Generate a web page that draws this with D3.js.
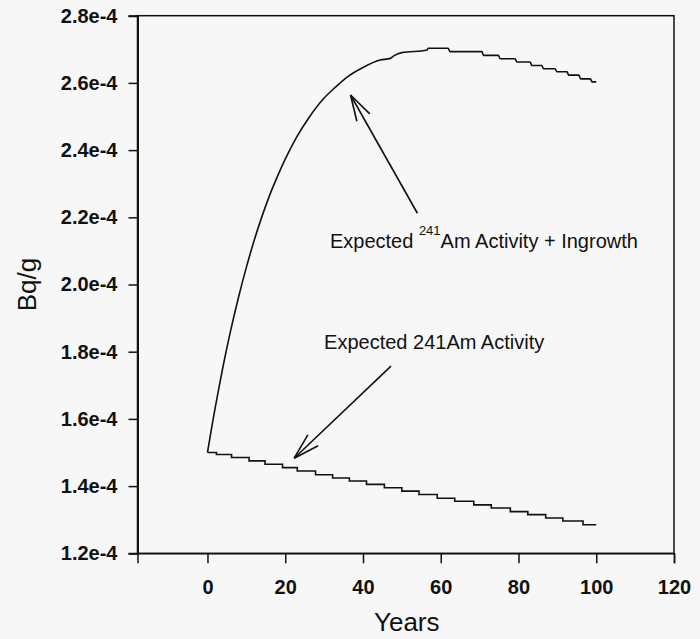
<!DOCTYPE html>
<html>
<head>
<meta charset="utf-8">
<script src="https://cdn.jsdelivr.net/npm/d3@7"></script>
<style>
  html, body { margin: 0; padding: 0; background: #f7f7f7; }
  svg { display: block; }
  text { font-family: "Liberation Sans", Arial, sans-serif; fill: #111; }
</style>
</head>
<body>
<svg id="chart" width="700" height="639"></svg>
<script>
// Expected 241Am activity (decay only), stepped as plotted: step start year and value (Bq/g)
const decayYears  = [0, 2.3, 6.2, 10.7, 14.8, 19.3, 23.1, 27.8, 32.2, 36.5, 40.9, 45.5, 50.0,
                     54.4, 59.1, 63.6, 68.5, 73.0, 77.9, 82.4, 87.0, 91.4, 96.6, 100];
const decayValues = [1.500e-4, 1.494e-4, 1.485e-4, 1.475e-4, 1.465e-4, 1.455e-4, 1.445e-4, 1.434e-4,
                     1.424e-4, 1.415e-4, 1.405e-4, 1.395e-4, 1.385e-4, 1.375e-4, 1.364e-4, 1.355e-4,
                     1.344e-4, 1.335e-4, 1.324e-4, 1.315e-4, 1.305e-4, 1.296e-4, 1.285e-4, 1.285e-4];

// Expected 241Am activity + ingrowth from 241Pu (Bq/g)
const ingrowthYears  = [0, 1, 2, 3, 4, 5, 6, 8, 10, 12, 14, 16, 18, 20, 23, 26, 30, 33, 36, 40,
                        44.4, 47, 48, 50, 56.4, 56.8, 61.9, 62.4, 70.6, 71.0, 74.8, 75.3, 79.1, 79.6,
                        83.0, 83.4, 86.0, 86.4, 89.4, 89.9, 92.5, 92.9, 95.5, 96.0, 98.5, 98.9, 100];
const ingrowthValues = [1.500e-4, 1.569e-4, 1.634e-4, 1.696e-4, 1.756e-4, 1.812e-4, 1.865e-4, 1.963e-4,
                        2.051e-4, 2.131e-4, 2.202e-4, 2.266e-4, 2.322e-4, 2.373e-4, 2.440e-4, 2.495e-4,
                        2.555e-4, 2.588e-4, 2.618e-4, 2.646e-4, 2.668e-4, 2.673e-4, 2.681e-4, 2.690e-4,
                        2.697e-4, 2.703e-4, 2.703e-4, 2.693e-4, 2.693e-4, 2.682e-4, 2.682e-4, 2.672e-4,
                        2.672e-4, 2.662e-4, 2.662e-4, 2.652e-4, 2.652e-4, 2.642e-4, 2.642e-4, 2.633e-4,
                        2.633e-4, 2.623e-4, 2.623e-4, 2.612e-4, 2.612e-4, 2.603e-4, 2.603e-4];

// Axis ticks and labels
const xTicks = [0, 20, 40, 60, 80, 100, 120];
const yTicks = [1.2e-4, 1.4e-4, 1.6e-4, 1.8e-4, 2.0e-4, 2.2e-4, 2.4e-4, 2.6e-4, 2.8e-4];
const yTickLabels = ["1.2e-4", "1.4e-4", "1.6e-4", "1.8e-4", "2.0e-4", "2.2e-4", "2.4e-4", "2.6e-4", "2.8e-4"];
const xDomain = [-18, 120];
const yDomain = [1.2e-4, 2.8e-4];

// Annotations: arrow tip / tail and label anchor, in data units
const ingrowthArrow = { tip: [36.8, 2.564e-4], tail: [54.0, 2.212e-4] };
const ingrowthLabel = { at: [31.5, 2.110e-4], pre: "Expected ", sup: "241", post: "Am Activity + Ingrowth" };
const decayArrow = { tip: [22.3, 1.483e-4], tail: [47.2, 1.757e-4] };
const decayLabel = { at: [30.0, 1.807e-4], text: "Expected 241Am Activity" };

const svg = d3.select("#chart");
const plot = { left: 137.5, right: 674, top: 15.7, bottom: 553.3 };

const x = d3.scaleLinear().domain(xDomain).range([plot.left, plot.right]);
const y = d3.scaleLinear().domain(yDomain).range([plot.bottom, plot.top]);

// frame
svg.append("rect")
  .attr("x", plot.left).attr("y", plot.top)
  .attr("width", plot.right - plot.left).attr("height", plot.bottom - plot.top)
  .attr("fill", "none").attr("stroke", "#111").attr("stroke-width", 1.5);

// y axis
const yAxis = svg.append("g")
  .attr("transform", `translate(${plot.left},0)`)
  .call(d3.axisLeft(y).tickValues(yTicks)
    .tickFormat((d, i) => yTickLabels[i])
    .tickSize(9).tickPadding(11));
yAxis.select(".domain").attr("stroke", "#111").attr("stroke-width", 2);
yAxis.selectAll(".tick line").attr("stroke", "#111").attr("stroke-width", 1.5);
yAxis.selectAll(".tick text")
  .attr("font-size", 20).attr("font-weight", "bold").attr("fill", "#111")
  .style("font-family", "'Liberation Sans', Arial, sans-serif");

// x axis
const xAxis = svg.append("g")
  .attr("transform", `translate(0,${plot.bottom})`)
  .call(d3.axisBottom(x).tickValues(xTicks)
    .tickFormat(d3.format("d"))
    .tickSize(10).tickPadding(17));
xAxis.select(".domain").attr("stroke", "#111").attr("stroke-width", 1.5);
xAxis.selectAll(".tick line").attr("stroke", "#111").attr("stroke-width", 1.5);
xAxis.selectAll(".tick text")
  .attr("font-size", 20).attr("font-weight", "bold").attr("fill", "#111")
  .style("font-family", "'Liberation Sans', Arial, sans-serif");

// axis titles
svg.append("text")
  .attr("x", (plot.left + plot.right) / 2 + 1).attr("y", 631)
  .attr("text-anchor", "middle")
  .attr("font-size", 26)
  .text("Years");

svg.append("text")
  .attr("transform", `translate(36,${(plot.top + plot.bottom) / 2}) rotate(-90)`)
  .attr("text-anchor", "middle")
  .attr("font-size", 26)
  .text("Bq/g");

// curves
const decayLine = d3.line()
  .x((d, i) => x(decayYears[i]))
  .y(d => y(d))
  .curve(d3.curveStepAfter);

const ingrowthLine = d3.line()
  .x((d, i) => x(ingrowthYears[i]))
  .y(d => y(d))
  .curve(d3.curveMonotoneX);

svg.append("path")
  .attr("d", decayLine(decayValues))
  .attr("fill", "none").attr("stroke", "#111").attr("stroke-width", 1.6);

svg.append("path")
  .attr("d", ingrowthLine(ingrowthValues))
  .attr("fill", "none").attr("stroke", "#111").attr("stroke-width", 1.6);

// arrows with open heads
function drawArrow(a) {
  const tx = x(a.tip[0]), ty = y(a.tip[1]);
  const sx = x(a.tail[0]), sy = y(a.tail[1]);
  const ang = Math.atan2(sy - ty, sx - tx);
  const len = 27, spread = 16 * Math.PI / 180;
  const g = svg.append("g").attr("stroke", "#111").attr("stroke-width", 1.6).attr("fill", "none");
  g.append("line").attr("x1", sx).attr("y1", sy).attr("x2", tx).attr("y2", ty);
  [-spread, spread].forEach(s => {
    g.append("line")
      .attr("x1", tx).attr("y1", ty)
      .attr("x2", tx + len * Math.cos(ang + s))
      .attr("y2", ty + len * Math.sin(ang + s));
  });
}
drawArrow(ingrowthArrow);
drawArrow(decayArrow);

// annotation labels
const t1 = svg.append("text")
  .attr("x", x(ingrowthLabel.at[0])).attr("y", y(ingrowthLabel.at[1]))
  .attr("font-size", 20);
t1.append("tspan").text(ingrowthLabel.pre);
t1.append("tspan").attr("font-size", 13).attr("dy", -13).text(ingrowthLabel.sup);
t1.append("tspan").attr("dy", 13).text(ingrowthLabel.post);

svg.append("text")
  .attr("x", x(decayLabel.at[0])).attr("y", y(decayLabel.at[1]))
  .attr("font-size", 20)
  .text(decayLabel.text);
</script>
</body>
</html>
